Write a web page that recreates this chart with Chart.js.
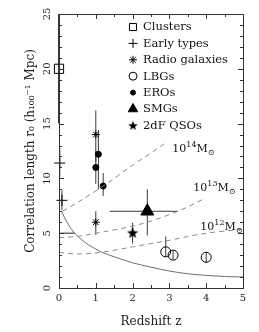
<!DOCTYPE html>
<html>
<head>
<meta charset="utf-8">
<script src="https://cdn.jsdelivr.net/npm/chart.js@4/dist/chart.umd.min.js"></script>
<style>
  html, body { margin: 0; padding: 0; background: #fff; }
  canvas { display: block; }
</style>
</head>
<body>
<canvas id="chart" width="259" height="332"></canvas>
<script>
// --- data (z = redshift, r = r0 in h^-1 Mpc) ---
const clusterZ = [0.0];
const clusterR = [20.0];
const clusterLo = [15.0];
const clusterHi = [25.0];

const earlyZ = [0.02, 0.08];
const earlyR = [11.4, 8.0];
const earlyLo = [10.1, 7.1];
const earlyHi = [12.8, 8.9];

const radioZ = [1.0, 1.0];
const radioR = [14.0, 6.0];
const radioLo = [11.5, 4.85];
const radioHi = [16.2, 7.0];

const lbgZ = [2.9, 3.1, 4.0];
const lbgR = [3.3, 3.0, 2.8];
const lbgLo = [2.85, 2.6, 2.3];
const lbgHi = [4.7, 3.4, 3.3];

const eroZ = [1.07, 1.0, 1.2];
const eroR = [12.2, 11.0, 9.3];
const eroLo = [9.0, 9.5, 8.4];
const eroHi = [14.4, 12.5, 10.5];

const smgZ = [2.4];
const smgR = [7.0];
const smgLo = [4.8];
const smgHi = [9.0];
const smgZLo = [1.38];
const smgZHi = [3.23];

const qsoZ = [2.0];
const qsoR = [5.05];
const qsoLo = [4.05];
const qsoHi = [5.95];

// local bar at r0 = 5
const localZ = [0.0, 0.43];
const localR = [5.0, 5.0];

// halo mass tracks (dashed) and the solid curve
const m14Z = [0.1, 0.5, 1.2, 2.0, 2.93];
const m14R = [7.0, 7.8, 9.3, 11.2, 13.3];
const m13Z = [0.0, 0.5, 1.0, 1.5, 2.0, 2.5, 3.0, 3.5, 3.94];
const m13R = [4.6, 4.7, 5.0, 5.3, 5.65, 6.1, 6.7, 7.4, 8.15];
const m12Z = [0.0, 0.5, 1.0, 1.5, 2.0, 2.5, 3.0, 3.5, 4.0, 4.5, 5.0];
const m12R = [3.25, 3.1, 3.2, 3.45, 3.75, 4.05, 4.35, 4.7, 5.0, 5.2, 5.35];
const solidZ = [0.07, 0.2, 0.4, 0.6, 0.8, 1.0, 1.25, 1.5, 2.0, 2.5, 3.0, 3.5, 4.0, 4.5, 5.0];
const solidR = [7.0, 6.1, 5.1, 4.45, 3.95, 3.55, 3.15, 2.85, 2.3, 1.9, 1.55, 1.3, 1.15, 1.05, 1.0];

const massLabels = [
  { exp: "14", z: 3.08, r: 12.8 },
  { exp: "13", z: 3.65, r: 9.2 },
  { exp: "12", z: 3.84, r: 5.7 }
];

const SERIF = "'DejaVu Serif', serif";

function pts(zs, rs) {
  return zs.map((z, i) => ({ x: z, y: rs[i] }));
}

// filled five-point star used for the QSO marker
function makeStar(size) {
  const c = document.createElement("canvas");
  c.width = c.height = size;
  const g = c.getContext("2d");
  const cx = size / 2, cy = size / 2 + 0.5, R = size / 2, r = R * 0.42;
  g.beginPath();
  for (let i = 0; i < 10; i++) {
    const a = -Math.PI / 2 + i * Math.PI / 5;
    const rr = i % 2 === 0 ? R : r;
    g.lineTo(cx + rr * Math.cos(a), cy + rr * Math.sin(a));
  }
  g.closePath();
  g.fillStyle = "#000";
  g.fill();
  return c;
}
const starBig = makeStar(12);
const starSmall = makeStar(10);

const markerSet = (style, radius, fill) => ({
  pointStyle: style,
  pointRadius: radius,
  pointHoverRadius: radius,
  pointBackgroundColor: fill ? "#000" : "rgba(0,0,0,0)",
  pointBorderColor: "#000",
  pointBorderWidth: 1,
  showLine: false,
  clip: 12
});

const curve = (color, dash) => ({
  showLine: true,
  borderColor: color,
  borderWidth: 1,
  borderDash: dash,
  pointRadius: 0,
  cubicInterpolationMode: "monotone",
  fill: false
});

const datasets = [
  Object.assign({ label: "m12", data: pts(m12Z, m12R) }, curve("#8a8a8a", [5, 4])),
  Object.assign({ label: "m13", data: pts(m13Z, m13R) }, curve("#8a8a8a", [5, 4])),
  Object.assign({ label: "m14", data: pts(m14Z, m14R) }, curve("#8a8a8a", [5, 4])),
  Object.assign({ label: "solid", data: pts(solidZ, solidR) }, curve("#6e6e6e", [])),
  Object.assign({ label: "local", data: pts(localZ, localR) }, curve("#222", []), { cubicInterpolationMode: "default" }),
  Object.assign({ label: "Clusters", data: pts(clusterZ, clusterR), errLo: clusterLo, errHi: clusterHi, errW: 2 }, markerSet("rect", 6.5, false)),
  Object.assign({ label: "Early types", data: pts(earlyZ, earlyR), errLo: earlyLo, errHi: earlyHi }, markerSet("cross", 5.5, false)),
  Object.assign({ label: "Radio galaxies", data: pts(radioZ, radioR), errLo: radioLo, errHi: radioHi }, markerSet("star", 4, false)),
  Object.assign({ label: "LBGs", data: pts(lbgZ, lbgR), errLo: lbgLo, errHi: lbgHi }, markerSet("circle", 5, false)),
  Object.assign({ label: "EROs", data: pts(eroZ, eroR), errLo: eroLo, errHi: eroHi }, markerSet("circle", 3, true)),
  Object.assign({ label: "SMGs", data: pts(smgZ, smgR), errLo: smgLo, errHi: smgHi, zLo: smgZLo, zHi: smgZHi }, markerSet("triangle", 7.5, true)),
  Object.assign({ label: "2dF QSOs", data: pts(qsoZ, qsoR), errLo: qsoLo, errHi: qsoHi }, markerSet(starBig, 6, true))
];

// error bars through the scales
const errorBars = {
  id: "errorBars",
  beforeDatasetsDraw(chart) {
    const { ctx, scales: { x, y } } = chart;
    ctx.save();
    ctx.strokeStyle = "#3a3a3a";
    chart.data.datasets.forEach(ds => {
      if (!ds.errLo) return;
      ds.data.forEach((p, i) => {
        const px = x.getPixelForValue(p.x);
        ctx.lineWidth = ds.errW || 1;
        ctx.beginPath();
        ctx.moveTo(px, y.getPixelForValue(ds.errLo[i]));
        ctx.lineTo(px, y.getPixelForValue(ds.errHi[i]));
        if (ds.zLo) {
          const py = y.getPixelForValue(p.y);
          ctx.moveTo(x.getPixelForValue(ds.zLo[i]), py);
          ctx.lineTo(x.getPixelForValue(ds.zHi[i]), py);
        }
        ctx.stroke();
      });
    });
    ctx.restore();
  }
};

// frame with inward ticks on all four sides, mass labels and legend
const frame = {
  id: "frame",
  afterDraw(chart) {
    const { ctx, chartArea: a, scales: { x, y } } = chart;
    ctx.save();
    ctx.strokeStyle = "#333";
    ctx.lineWidth = 1;
    ctx.strokeRect(Math.round(a.left) + 0.5, Math.round(a.top) + 0.5,
      Math.round(a.right - a.left), Math.round(a.bottom - a.top));
    ctx.beginPath();
    for (let v = 0; v <= 5.001; v += 0.5) {
      const px = Math.round(x.getPixelForValue(v)) + 0.5;
      const L = Math.abs(v - Math.round(v)) < 0.01 ? 5 : 3;
      ctx.moveTo(px, a.bottom); ctx.lineTo(px, a.bottom - L);
      ctx.moveTo(px, a.top); ctx.lineTo(px, a.top + L);
    }
    for (let v = 0; v <= 25; v++) {
      const py = Math.round(y.getPixelForValue(v)) + 0.5;
      const L = v % 5 === 0 ? 5 : 3;
      ctx.moveTo(a.left, py); ctx.lineTo(a.left + L, py);
      ctx.moveTo(a.right, py); ctx.lineTo(a.right - L, py);
    }
    ctx.stroke();

    // 10^n M_sun labels
    ctx.fillStyle = "#111";
    ctx.textBaseline = "alphabetic";
    ctx.textAlign = "left";
    massLabels.forEach(m => {
      let px = x.getPixelForValue(m.z);
      const py = y.getPixelForValue(m.r) + 4;
      ctx.font = "11px " + SERIF;
      ctx.fillText("10", px, py);
      px += ctx.measureText("10").width;
      ctx.font = "8px " + SERIF;
      ctx.fillText(m.exp, px, py - 5);
      px += ctx.measureText(m.exp).width;
      ctx.font = "11px " + SERIF;
      ctx.fillText("M", px, py);
      px += ctx.measureText("M").width;
      ctx.font = "8px " + SERIF;
      ctx.fillText("\u2299", px, py + 3);
    });

    // legend
    const rows = chart.data.datasets.filter(d => d.errLo);
    const lx = 133, ly0 = 27, step = 16.4;
    rows.forEach((ds, i) => {
      const ly = ly0 + i * step;
      let style = ds.pointStyle, rad = ds.pointRadius;
      if (style === "rect") rad = 5;
      if (style === "cross") rad = 4.5;
      if (style === "circle" && rad > 4) rad = 4;
      if (style === "circle" && rad < 4) rad = 2.5;
      if (style === "triangle") rad = 5.5;
      if (style === starBig) style = starSmall;
      ctx.fillStyle = ds.pointBackgroundColor;
      ctx.strokeStyle = "#000";
      ctx.lineWidth = 1;
      Chart.helpers.drawPoint(ctx, { pointStyle: style, radius: rad, rotation: 0, borderWidth: 1 }, lx, ly);
      ctx.fillStyle = "#111";
      ctx.font = "11.5px " + SERIF;
      ctx.textBaseline = "middle";
      ctx.fillText(ds.label, 143, ly + 0.5);
    });
    ctx.restore();
  }
};

new Chart(document.getElementById("chart"), {
  type: "scatter",
  data: { datasets: datasets },
  options: {
    responsive: false,
    animation: false,
    layout: { padding: { top: 14, right: 16, left: 0, bottom: 0 } },
    plugins: { legend: { display: false }, tooltip: { enabled: false } },
    scales: {
      x: {
        type: "linear", min: 0, max: 5,
        grid: { display: false, drawTicks: false, tickLength: 0 },
        border: { display: false },
        ticks: { stepSize: 1, color: "#222", padding: 4, font: { family: SERIF, size: 10 } },
        title: { display: true, text: "Redshift z", color: "#222", padding: { top: 0, bottom: 3 }, font: { family: SERIF, size: 12 } },
        afterFit(s) { s.height = 44; }
      },
      y: {
        type: "linear", min: 0, max: 25,
        grid: { display: false, drawTicks: false, tickLength: 0 },
        border: { display: false },
        ticks: { stepSize: 5, color: "#222", padding: 5, minRotation: 90, maxRotation: 90, crossAlign: "center", font: { family: SERIF, size: 10 } },
        title: { display: true, text: "Correlation length r\u2080 (h\u2081\u2080\u2080\u207B\u00B9 Mpc)", color: "#222", padding: { top: 24, bottom: 0 }, font: { family: SERIF, size: 12 } },
        afterFit(s) { s.width = 59; }
      }
    }
  },
  plugins: [errorBars, frame]
});
</script>
</body>
</html>
